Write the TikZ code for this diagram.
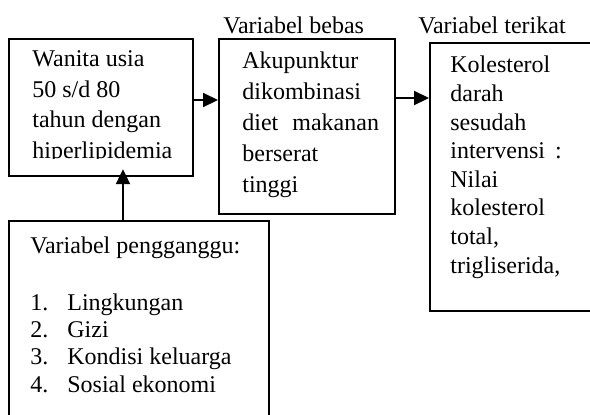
\documentclass[tikz,border=0pt]{standalone}
\usepackage{fontspec}
\setmainfont{Liberation Serif}
\usetikzlibrary{arrows.meta}
\tikzset{
  box/.style = {draw, line width=1.1pt, anchor=north west, inner sep=0},
  txt/.style = {anchor=base west, align=left, inner sep=0, font=\fontsize{12}{14.3}\selectfont},
  arr/.style = {-{Triangle[length=7.5pt,width=7pt]}, line width=1.1pt},
}
\begin{document}
\begin{tikzpicture}[x=0.5pt, y=-0.5pt]
  \useasboundingbox (0,0) rectangle (590,414);
  % boxes
  \node [box, minimum width=92pt, minimum height=68.5pt] (wanita) at (8,38) {};
  \node [box, minimum width=88pt, minimum height=87.5pt] (akupunktur) at (218,38) {};
  \node [box, minimum width=90pt, minimum height=134pt] (kolesterol) at (429,42) {};
  \node [box, minimum width=130pt, minimum height=110pt] (pengganggu) at (8,220) {};
  % texts (anchored at the baseline of their last line)
  \begin{scope}
    \clip (10,40) rectangle (190,158);
    \node [txt, font=\fontsize{12}{15.25}\selectfont] (wanitatxt) at (32,158)
      {Wanita usia\\50 s/d 80\\tahun dengan\\hiperlipidemia};
  \end{scope}
  \node [txt, font=\fontsize{12}{15.5}\selectfont] (akupunkturtxt) at (242,192)
    {Akupunktur\\dikombinasi\\diet\hspace{7pt}makanan\\berserat\\tinggi};
  \begin{scope}
    \clip (431,44) rectangle (600,282);
    \node [txt] (kolesteroltxt) at (450,273) {Kolesterol\\darah\\sesudah\\intervensi\hspace{5pt}:\\Nilai\\kolesterol\\total,\\trigliserida,};
  \end{scope}
  \node [txt] (penggangguttl) at (30,253) {Variabel pengganggu:};
  \node [txt, font=\fontsize{12}{13.65}\selectfont] (pengganggutxt) at (30,392)
    {\makebox[18.5pt][l]{1.}Lingkungan\\\makebox[18.5pt][l]{2.}Gizi\\\makebox[18.5pt][l]{3.}Kondisi keluarga\\\makebox[18.5pt][l]{4.}Sosial ekonomi};
  % labels
  \node [txt] (bebas) at (223,33) {Variabel bebas};
  \node [txt] (terikat) at (418,33) {Variabel terikat};
  % arrows
  \coordinate (row) at (0,100);
  \coordinate (rowb) at (0,98);
  \coordinate (col) at (123,0);
  \draw [arr] (wanita.east |- row) -- (akupunktur.west |- row);
  \draw [arr] (akupunktur.east |- rowb) -- (kolesterol.west |- rowb);
  \draw [arr] (pengganggu.north -| col) -- ([yshift=4pt]wanita.south -| col);
\end{tikzpicture}
\end{document}
